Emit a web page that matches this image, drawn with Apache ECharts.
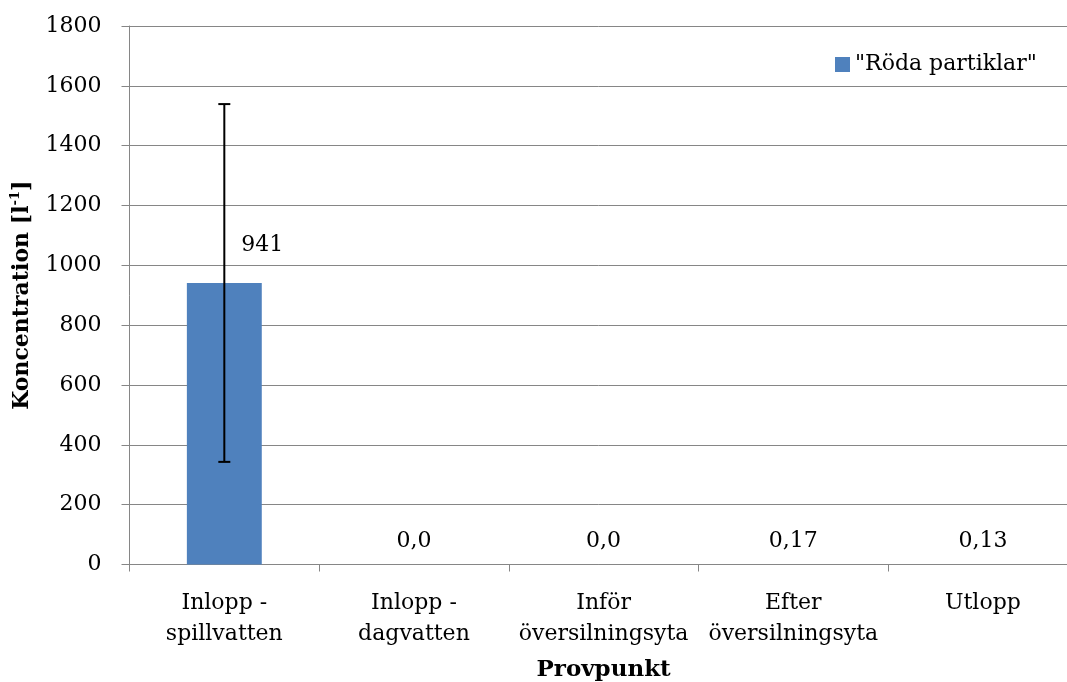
<!DOCTYPE html>
<html>
<head>
<meta charset="utf-8">
<script src="https://cdn.jsdelivr.net/npm/echarts@6/dist/echarts.min.js"></script>
<style>
  html, body { margin: 0; padding: 0; background: #fff; }
  #chart { width: 1067px; height: 682px; }
</style>
</head>
<body>
<div id="chart"></div>
<script>
// Sampling points along the treatment chain
const categories = [
  'Inlopp -\nspillvatten',
  'Inlopp -\ndagvatten',
  'Inför\növersilningsyta',
  'Efter\növersilningsyta',
  'Utlopp'
];
// Mean concentration of red particles per litre
const values = [941, 0, 0, 0.17, 0.13];
// Error bar bounds (null where no bar is drawn)
const errLow = [343, null, null, null, null];
const errHigh = [1539, null, null, null, null];
// Y axis scale
const yMin = 0, yMax = 1800, yStep = 200;

const FONT = '"DejaVu Serif", "Liberation Serif", serif';
const GRID_COLOR = '#868686';

// Swedish decimal formatting of the value labels
function fmt(v) {
  return v === 0 ? '0,0' : String(v).replace('.', ',');
}

const chart = echarts.init(document.getElementById('chart'), null, { renderer: 'canvas' });

const barData = values.map((v, i) => {
  const item = { value: v };
  if (i === 0) {
    item.label = { offset: [38, -15] };
  }
  return item;
});

const errData = categories.map((c, i) => [i, errLow[i], errHigh[i]])
  .filter(d => d[1] != null && d[2] != null);

chart.setOption({
  animation: false,
  backgroundColor: '#fff',
  textStyle: { fontFamily: FONT, color: '#000' },
  grid: {
    left: 129.5, right: -10.7, top: 26, bottom: 117.5,
    containLabel: false,
    outerBoundsMode: 'none'
  },
  legend: {
    show: true,
    left: 830,
    top: 48.5,
    itemWidth: 15,
    itemHeight: 15,
    icon: 'rect',
    data: ['"Röda partiklar"'],
    textStyle: { fontFamily: FONT, fontSize: 22, color: '#000' }
  },
  xAxis: {
    type: 'category',
    data: categories,
    boundaryGap: true,
    name: 'Provpunkt',
    nameLocation: 'middle',
    nameGap: 94,
    nameTextStyle: { fontFamily: FONT, fontSize: 23, fontWeight: 'bold', color: '#000' },
    axisLine: { show: true, lineStyle: { color: GRID_COLOR, width: 1 } },
    axisTick: { show: true, length: 7, alignWithLabel: false, lineStyle: { color: GRID_COLOR } },
    axisLabel: {
      interval: 0,
      margin: 23,
      fontFamily: FONT,
      fontSize: 22,
      lineHeight: 31,
      color: '#000'
    },
    splitLine: { show: false }
  },
  yAxis: {
    type: 'value',
    min: yMin,
    max: yMax,
    interval: yStep,
    name: '{b|Koncentration [l}{sup|-1}{b|]}',
    nameLocation: 'middle',
    nameGap: 94,
    nameTextStyle: {
      rich: {
        b: { fontFamily: FONT, fontSize: 22, fontWeight: 'bold', color: '#000', lineHeight: 26 },
        sup: { fontFamily: FONT, fontSize: 13, fontWeight: 'bold', color: '#000', lineHeight: 14, verticalAlign: 'top' }
      }
    },
    axisLine: { show: true, lineStyle: { color: GRID_COLOR, width: 1 } },
    axisTick: { show: true, length: 8, lineStyle: { color: GRID_COLOR } },
    axisLabel: {
      margin: 28, fontFamily: FONT, fontSize: 22, color: '#000',
      formatter: v => String(v)
    },
    splitLine: { show: true, lineStyle: { color: GRID_COLOR, width: 1 } }
  },
  series: [
    {
      name: '"Röda partiklar"',
      type: 'bar',
      data: barData,
      barWidth: '39.5%',
      itemStyle: { color: '#4F81BD' },
      label: {
        show: true,
        position: 'top',
        distance: 12,
        fontFamily: FONT,
        fontSize: 22,
        color: '#000',
        formatter: p => fmt(p.value)
      },
      z: 2
    },
    {
      name: 'error',
      type: 'custom',
      data: errData,
      z: 5,
      renderItem: function (params, api) {
        const x = api.value(0);
        const lo = api.coord([x, api.value(1)]);
        const hi = api.coord([x, api.value(2)]);
        const half = 6;
        const style = { stroke: '#000', lineWidth: 2 };
        return {
          type: 'group',
          children: [
            { type: 'line', shape: { x1: lo[0], y1: lo[1], x2: hi[0], y2: hi[1] }, style: style },
            { type: 'line', shape: { x1: hi[0] - half, y1: hi[1], x2: hi[0] + half, y2: hi[1] }, style: style },
            { type: 'line', shape: { x1: lo[0] - half, y1: lo[1], x2: lo[0] + half, y2: lo[1] }, style: style }
          ]
        };
      },
      encode: { x: 0, y: [1, 2] },
      tooltip: { show: false }
    }
  ]
});
</script>
</body>
</html>
